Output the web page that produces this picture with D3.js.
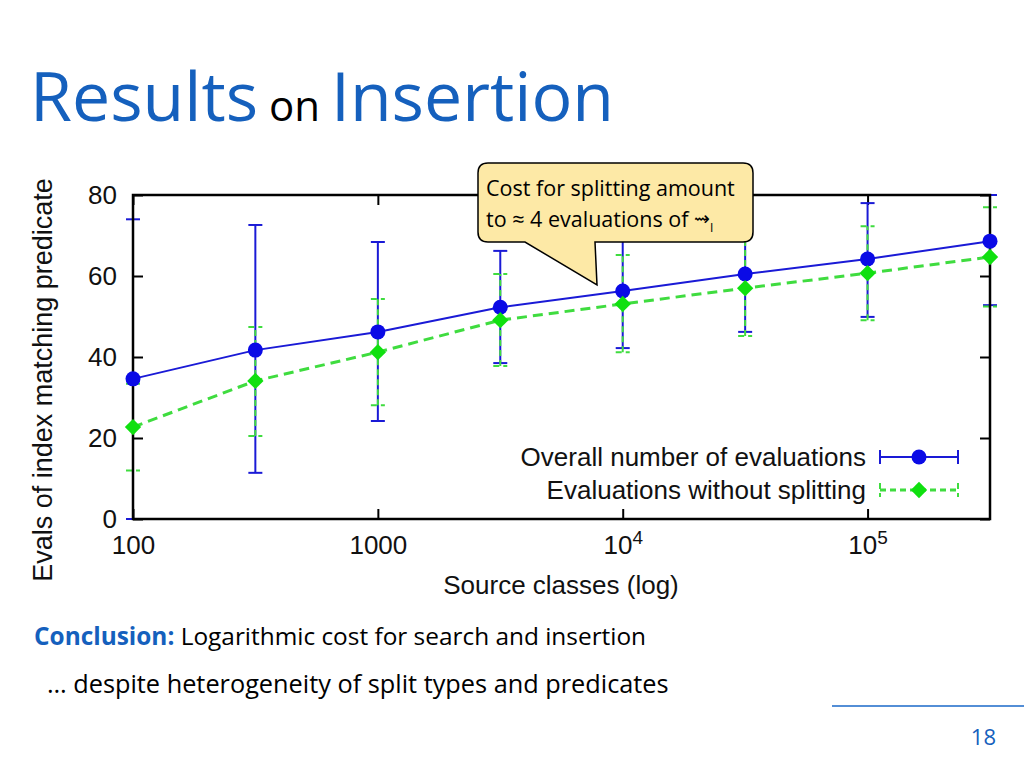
<!DOCTYPE html>
<html>
<head>
<meta charset="utf-8">
<script src="https://cdn.jsdelivr.net/npm/d3@7"></script>
<style>
  body { margin: 0; background: #fff; }
  svg { display: block; }
</style>
</head>
<body>
<script>
// data
var sourceClasses = [100, 316, 1000, 3162, 10000, 31623, 100000, 316228];
var overall = [34.6, 41.7, 46.2, 52.3, 56.3, 60.5, 64.2, 68.6];
var overallLow = [0, 11.4, 24.2, 38.5, 42.2, 46.2, 49.9, 52.8];
var overallHigh = [74.0, 72.6, 68.4, 66.2, 70.4, 74.8, 78.0, 80];
var noSplit = [22.7, 34.1, 41.2, 49.1, 53.1, 57.0, 60.7, 64.7];
var noSplitLow = [12.0, 20.5, 28.1, 37.8, 41.2, 45.2, 49.1, 52.5];
var noSplitHigh = [33.4, 47.4, 54.3, 60.5, 65.2, 69.5, 72.3, 77.0];
var xTicks = [100, 1000, 10000, 100000];
var yTicks = [0, 20, 40, 60, 80];

var blue = "#1a1ad6";
var green = "#3fdc3f";
var chartFont = "Liberation Sans, Arial, sans-serif";
var slideFont = "Open Sans, Noto Sans, sans-serif";

var svg = d3.select("body").append("svg")
  .attr("width", 1024)
  .attr("height", 768);

// title
var title = svg.append("text")
  .attr("x", 30)
  .attr("y", 121)
  .style("font-family", slideFont)
  .style("fill", "#1560bd");
title.append("tspan").text("Results").style("font-size", "68px");
title.append("tspan").text(" on ").style("font-size", "42px").style("fill", "#000");
title.append("tspan").text("Insertion").style("font-size", "68px");

var x = d3.scaleLog().domain([100, Math.pow(10, 5.5)]).range([133, 990]);
var y = d3.scaleLinear().domain([0, 80]).range([519, 195]);

function rows(vals, lo, hi) {
  return sourceClasses.map(function (c, i) {
    return { x: c, v: vals[i], lo: lo[i], hi: hi[i] };
  });
}
var blueRows = rows(overall, overallLow, overallHigh);
var greenRows = rows(noSplit, noSplitLow, noSplitHigh);

// axes, ticks pointing inward
var xAxis = svg.append("g")
  .attr("transform", "translate(0,519)")
  .call(d3.axisBottom(x).tickValues(xTicks).tickSizeInner(-10).tickSizeOuter(0)
    .tickPadding(17).tickFormat(d3.format("d")));
var xTop = svg.append("g")
  .attr("transform", "translate(0,195)")
  .call(d3.axisTop(x).tickValues(xTicks).tickSizeInner(-10).tickSizeOuter(0).tickFormat(""));
var yAxis = svg.append("g")
  .attr("transform", "translate(133,0)")
  .call(d3.axisLeft(y).tickValues(yTicks).tickSizeInner(-10).tickSizeOuter(0).tickPadding(16));
var yRight = svg.append("g")
  .attr("transform", "translate(990,0)")
  .call(d3.axisRight(y).tickValues(yTicks).tickSizeInner(-10).tickSizeOuter(0).tickFormat(""));

svg.selectAll(".domain").remove();
svg.selectAll(".tick line").attr("stroke", "#000").attr("stroke-width", 2);
svg.selectAll(".tick text")
  .style("font-family", chartFont)
  .style("font-size", "26px")
  .attr("fill", "#111");

xAxis.selectAll(".tick text").each(function (d) {
  var t = d3.select(this);
  var e = Math.round(Math.log10(d));
  if (e >= 4) {
    t.text("");
    t.append("tspan").text("10");
    t.append("tspan").text(e).attr("dy", "-0.55em").style("font-size", "19px");
  }
});

// axis titles
svg.append("text")
  .attr("x", 561).attr("y", 594)
  .attr("text-anchor", "middle")
  .style("font-family", chartFont).style("font-size", "26px")
  .attr("fill", "#111")
  .text("Source classes (log)");
svg.append("text")
  .attr("transform", "translate(52,380) rotate(-90)")
  .attr("text-anchor", "middle")
  .style("font-family", chartFont).style("font-size", "27px")
  .attr("fill", "#111")
  .text("Evals of index matching predicate");

// error bars
function errorBars(data, color, dash, cls) {
  var g = svg.append("g").attr("class", cls)
    .attr("stroke", color).attr("stroke-width", 2)
    .attr("stroke-dasharray", dash);
  g.selectAll(".v").data(data).enter().append("line")
    .attr("x1", function (d) { return x(d.x); })
    .attr("x2", function (d) { return x(d.x); })
    .attr("y1", function (d) { return y(d.lo); })
    .attr("y2", function (d) { return y(d.hi); });
  ["lo", "hi"].forEach(function (k) {
    g.selectAll(".c" + k).data(data).enter().append("line")
      .attr("x1", function (d) { return x(d.x) - 7; })
      .attr("x2", function (d) { return x(d.x) + 7; })
      .attr("y1", function (d) { return y(d[k]); })
      .attr("y2", function (d) { return y(d[k]); });
  });
}
errorBars(blueRows, blue, null, "eb-blue");
errorBars(greenRows, green, "6,4", "eb-green");

var line = d3.line()
  .x(function (d) { return x(d.x); })
  .y(function (d) { return y(d.v); });

svg.append("path").datum(blueRows)
  .attr("d", line).attr("fill", "none")
  .attr("stroke", blue).attr("stroke-width", 2);
svg.append("path").datum(greenRows)
  .attr("d", line).attr("fill", "none")
  .attr("stroke", green).attr("stroke-width", 3)
  .attr("stroke-dasharray", "10,6");

// frame over the bars, under the markers
svg.append("rect")
  .attr("x", 133).attr("y", 195)
  .attr("width", 990 - 133).attr("height", 519 - 195)
  .attr("fill", "none").attr("stroke", "#000").attr("stroke-width", 2.5);

svg.selectAll(".dot").data(blueRows).enter().append("circle")
  .attr("cx", function (d) { return x(d.x); })
  .attr("cy", function (d) { return y(d.v); })
  .attr("r", 7.5)
  .attr("fill", "#0a0ae6");
var diamond = d3.symbol().type(d3.symbolDiamond2).size(170);
svg.selectAll(".dia").data(greenRows).enter().append("path")
  .attr("d", diamond)
  .attr("transform", function (d) { return "translate(" + x(d.x) + "," + y(d.v) + ")"; })
  .attr("fill", "#10e010");

// legend
var legend = [
  { name: "Overall number of evaluations", color: blue, dash: null, y: 457, mark: "circle" },
  { name: "Evaluations without splitting", color: green, dash: "6,4", y: 490, mark: "diamond" }
];
legend.forEach(function (l) {
  var g = svg.append("g");
  g.append("text")
    .attr("x", 866).attr("y", l.y + 9)
    .attr("text-anchor", "end")
    .style("font-family", chartFont).style("font-size", "26px")
    .attr("fill", "#111")
    .text(l.name);
  var s = g.append("g").attr("stroke", l.color).attr("stroke-width", 2)
    .attr("stroke-dasharray", l.dash);
  s.append("line").attr("x1", 880).attr("x2", 958).attr("y1", l.y).attr("y2", l.y)
    .attr("stroke-width", l.dash ? 3 : 2);
  s.append("line").attr("x1", 880).attr("x2", 880).attr("y1", l.y - 7).attr("y2", l.y + 7);
  s.append("line").attr("x1", 958).attr("x2", 958).attr("y1", l.y - 7).attr("y2", l.y + 7);
  if (l.mark === "circle") {
    g.append("circle").attr("cx", 919).attr("cy", l.y).attr("r", 7.5).attr("fill", "#0a0ae6");
  } else {
    g.append("path").attr("d", diamond)
      .attr("transform", "translate(919," + l.y + ")").attr("fill", "#10e010");
  }
});

// callout
svg.append("path")
  .attr("d", "M488,163 H743 Q753,163 753,173 V232 Q753,242 743,242 H595 L597,285 L525,242 H488 Q478,242 478,232 V173 Q478,163 488,163 Z")
  .attr("fill", "#fde9a6").attr("stroke", "#000").attr("stroke-width", 1.5);
svg.append("text")
  .attr("x", 486).attr("y", 196)
  .style("font-family", slideFont).style("font-size", "21.5px")
  .text("Cost for splitting amount");
var c2 = svg.append("text")
  .attr("x", 486).attr("y", 227)
  .style("font-family", slideFont).style("font-size", "21.5px")
  .text("to \u2248 4 evaluations of ");
c2.append("tspan").text("\u21DD").style("font-family", "DejaVu Sans, sans-serif")
  .style("font-size", "19px").attr("dy", -2);
c2.append("tspan").text("I").style("font-size", "12px").attr("dy", 7);

// conclusion
var l1 = svg.append("text")
  .attr("x", 34).attr("y", 645)
  .style("font-family", slideFont).style("font-size", "24.4px");
l1.append("tspan").text("Conclusion:").style("font-weight", "bold").style("fill", "#1560bd");
l1.append("tspan").text(" Logarithmic cost for search and insertion");
svg.append("text")
  .attr("x", 47).attr("y", 693)
  .style("font-family", slideFont).style("font-size", "25.3px")
  .text("\u2026 despite heterogeneity of split types and predicates");

// footer
svg.append("line").attr("x1", 832).attr("x2", 1024).attr("y1", 706).attr("y2", 706)
  .attr("stroke", "#1a68c8").attr("stroke-width", 1.5);
svg.append("text")
  .attr("x", 996).attr("y", 745)
  .attr("text-anchor", "end")
  .style("font-family", slideFont).style("font-size", "22px")
  .style("fill", "#1560bd")
  .text("18");
</script>
</body>
</html>
